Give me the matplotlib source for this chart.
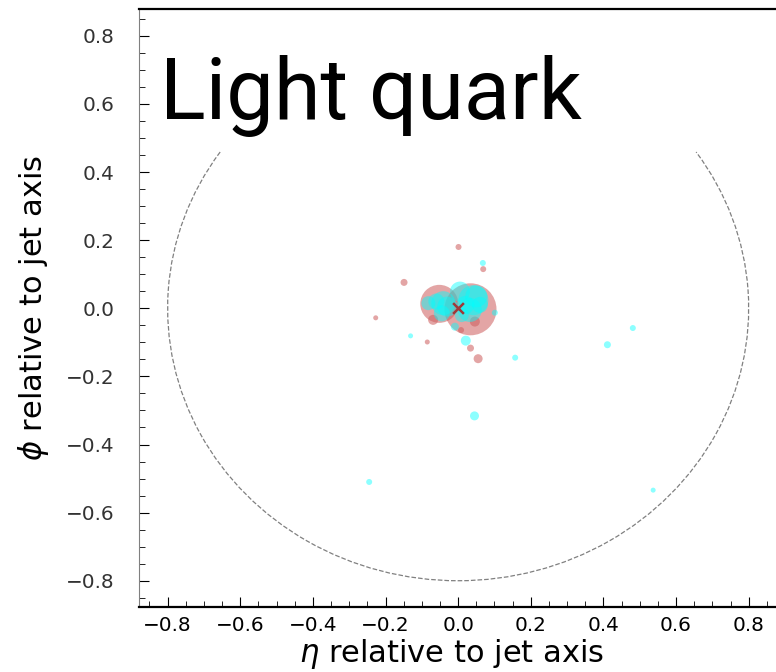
import matplotlib
matplotlib.use("Agg")
import matplotlib.pyplot as plt
from matplotlib.patches import Arc
import numpy as np

# --- constituents: (eta, phi) relative to jet axis, and pT-like weight for marker size ---
red_eta = [-0.052, 0.034, 0.001, 0.069, -0.149, -0.227, -0.085, 0.034, 0.055, -0.069, 0.046, 0.008]
red_phi = [0.013, -0.003, 0.180, 0.115, 0.076, -0.028, -0.099, -0.117, -0.148, -0.034, -0.039, -0.064]
red_pt = [19, 26, 3, 3, 3.5, 2.5, 2.5, 3.5, 4.5, 5, 5, 3]

cyan_eta = [-0.041, 0.005, 0.042, 0.032, -0.082, -0.045, -0.009, 0.060,
            -0.030, 0.020, 0.050, -0.060, 0.010,
            0.068, -0.131, 0.021, 0.157, 0.101, 0.481, 0.411, 0.537, -0.245, 0.045]
cyan_phi = [0.015, 0.049, 0.024, -0.005, 0.015, -0.015, -0.054, 0.010,
            0.005, 0.010, 0.035, 0.020, -0.020,
            0.133, -0.081, -0.095, -0.145, -0.013, -0.058, -0.107, -0.534, -0.510, -0.316]
cyan_pt = [12, 10, 15, 12, 7, 8, 4, 8,
           10, 9, 11, 8, 7,
           3, 2.5, 5, 3, 3, 3, 3.5, 2.5, 3, 4.5]

jet_radius = 0.8
title = "Light quark"


def size_of(r):
    # radius in px -> scatter area in pt^2 at 100 dpi
    return (1.44 * np.asarray(r)) ** 2


fig = plt.figure(figsize=(7.76, 6.72), dpi=100)
ax = fig.add_axes([0.1795, 0.0963, 0.8218, 0.8899])

ax.scatter(red_eta, red_phi, s=size_of(red_pt), color="indianred", alpha=0.55,
           linewidths=0, zorder=2)
ax.scatter(cyan_eta, cyan_phi, s=size_of(cyan_pt), color="cyan", alpha=0.45,
           linewidths=0, zorder=3)
ax.scatter([0], [0], marker="x", s=60, color="#a03838", linewidths=1.8, zorder=4)

# jet cone, upper part hidden behind the label
ax.add_patch(Arc((0, 0), 2 * jet_radius, 2 * jet_radius, theta1=145, theta2=35,
                 linestyle="--", color="gray", linewidth=0.9, zorder=1))

ax.text(0.032, 0.817, title, transform=ax.transAxes, fontsize=61,
        family="Roboto", va="baseline", ha="left")

ax.set_xlim(-0.878, 0.878)
ax.set_ylim(-0.878, 0.878)
ax.set_xticks(np.arange(-0.8, 0.81, 0.2))
ax.set_yticks(np.arange(-0.8, 0.81, 0.2))
ax.xaxis.set_minor_locator(matplotlib.ticker.MultipleLocator(0.05))
ax.yaxis.set_minor_locator(matplotlib.ticker.MultipleLocator(0.05))
ax.tick_params(which="both", direction="in", top=False, right=False)
ax.tick_params(which="major", length=7)
ax.tick_params(which="minor", length=4)
ax.tick_params(axis="x", labelsize=14.4, labelcolor="black", pad=6)
ax.tick_params(axis="y", labelsize=14.4, labelcolor="#333333", pad=18)

ax.spines["top"].set_linewidth(1.6)
ax.spines["bottom"].set_linewidth(1.6)
ax.spines["left"].set_linewidth(0.8)
ax.spines["left"].set_color("gray")

ax.set_xlabel(r"$\eta$ relative to jet axis", fontsize=22)
ax.set_ylabel(r"$\phi$ relative to jet axis", fontsize=22)
ax.xaxis.set_label_coords(0.49, -0.05)
ax.yaxis.set_label_coords(-0.138, 0.5)

fig.savefig("out.png", dpi=100)
